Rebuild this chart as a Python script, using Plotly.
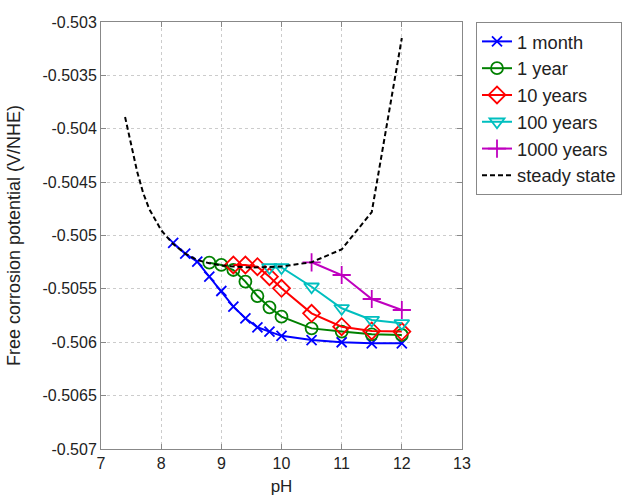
import plotly.graph_objects as go

# ---- data ----
ph_month = [8.2, 8.4, 8.6, 8.8, 9.0, 9.2, 9.4, 9.6, 9.8, 10.0, 10.5, 11.0, 11.5, 12.0]
v_month = [-0.50507, -0.50517, -0.505245, -0.505386, -0.50552, -0.505667, -0.505776,
           -0.50586, -0.5059, -0.50594, -0.50598, -0.506, -0.50601, -0.50601]

ph_year = [8.8, 9.0, 9.2, 9.4, 9.6, 9.8, 10.0, 10.5, 11.0, 11.5, 12.0]
v_year = [-0.505255, -0.505276, -0.505323, -0.505432, -0.505567, -0.505673, -0.50576,
          -0.50587, -0.5059, -0.505926, -0.505932]

ph_10y = [9.2, 9.4, 9.6, 9.8, 10.0, 10.5, 11.0, 11.5, 12.0]
v_10y = [-0.505276, -0.505276, -0.505292, -0.505386, -0.505495, -0.505729, -0.505854,
         -0.505894, -0.5059]

ph_100y = [9.8, 10.0, 10.5, 11.0, 11.5, 12.0]
v_100y = [-0.5053, -0.5053, -0.50548, -0.505682, -0.505792, -0.505823]

ph_1000y = [10.5, 11.0, 11.5, 12.0]
v_1000y = [-0.505251, -0.50537, -0.505595, -0.505698]

ph_ss = [7.4, 7.5, 7.6, 7.7, 7.8, 8.0, 8.2, 8.4, 8.6, 8.8, 9.0, 9.2, 9.5, 10.0, 10.5, 11.0, 11.5, 12.0]
v_ss = [-0.50389, -0.50415, -0.50440, -0.50460, -0.50475, -0.50495, -0.50508, -0.50517,
        -0.50523, -0.50526, -0.50528, -0.50529, -0.50530, -0.50529, -0.50525, -0.50513,
        -0.50478, -0.50315]

x_ticks = [7, 8, 9, 10, 11, 12, 13]
y_ticks = [-0.503, -0.5035, -0.504, -0.5045, -0.505, -0.5055, -0.506, -0.5065, -0.507]
y_labels = ["-0.503", "-0.5035", "-0.504", "-0.5045", "-0.505", "-0.5055", "-0.506", "-0.5065", "-0.507"]

fig = go.Figure()

def add(x, y, name, color, symbol, size=11):
    fig.add_trace(go.Scatter(
        x=x, y=y, name=name, mode="lines+markers",
        line=dict(color=color, width=2),
        marker=dict(symbol=symbol, size=size, color=color,
                    line=dict(color=color, width=1.8)),
    ))

add(ph_month, v_month, "1 month", "#0000ff", "x-thin", 10)
add(ph_year, v_year, "1 year", "#008000", "circle-open", 12)
add(ph_10y, v_10y, "10 years", "#ff0000", "diamond-open", 13)
add(ph_100y, v_100y, "100 years", "#00bfbf", "triangle-down-open", 13)
add(ph_1000y, v_1000y, "1000 years", "#bf00bf", "cross-thin", 13)

fig.add_trace(go.Scatter(
    x=ph_ss, y=v_ss, name="steady state", mode="lines",
    line=dict(color="#000000", width=2, dash="5px,3px"),
))

FONT = "Liberation Sans, Arial, sans-serif"
axis_common = dict(
    showline=True, linecolor="#888888", linewidth=1, mirror="ticks",
    ticks="inside", ticklen=5, tickcolor="#888888",
    showgrid=True, gridcolor="#cccccc", griddash="dot", gridwidth=1,
    zeroline=False, automargin=False,
    tickfont=dict(family=FONT, size=16, color="#222222"),
)

pw = 633 - 101 - 170

fig.update_layout(
    width=633, height=496,
    margin=dict(l=101, r=170, t=22, b=47),
    paper_bgcolor="white", plot_bgcolor="white",
    font=dict(family=FONT, size=16, color="#222222"),
    xaxis=dict(range=[7, 13], tickvals=x_ticks,
               title=dict(text="pH", font=dict(size=17), standoff=10), **axis_common),
    yaxis=dict(range=[-0.507, -0.503], tickvals=y_ticks, ticktext=y_labels,
               title=dict(text="Free corrosion potential (V/NHE)", font=dict(size=18), standoff=17),
               **axis_common),
    legend=dict(x=(476 - 101) / pw, y=1.0, xref="paper", yref="paper",
                xanchor="left", yanchor="top",
                bordercolor="#888888", borderwidth=1, bgcolor="white",
                font=dict(size=18.3, color="#222222"),
                tracegroupgap=0, itemwidth=30),
    showlegend=True,
)

fig.write_html("out.html")
